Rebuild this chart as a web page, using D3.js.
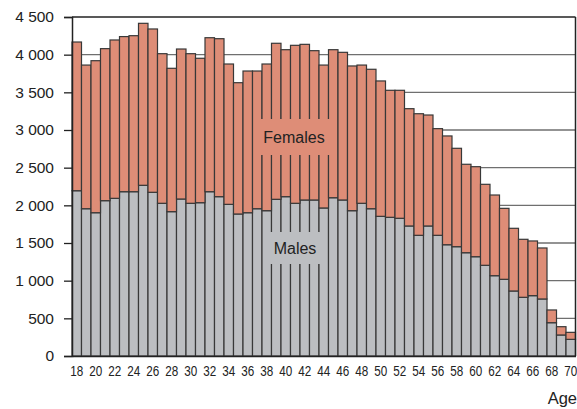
<!DOCTYPE html>
<html><head><meta charset="utf-8">
<script src="https://cdn.jsdelivr.net/npm/d3@7"></script>
<style>body{margin:0;background:#fff}svg{display:block}text{font-family:"Liberation Sans",Arial,sans-serif;fill:#222}</style>
</head><body><svg id="c" width="577" height="409"></svg>
<script>
const ages = [18,19,20,21,22,23,24,25,26,27,28,29,30,31,32,33,34,35,36,37,38,39,40,41,42,43,44,45,46,47,48,49,50,51,52,53,54,55,56,57,58,59,60,61,62,63,64,65,66,67,68,69,70];
const males = [2194,1955,1902,2062,2093,2181,2181,2266,2173,2027,1916,2084,2027,2035,2181,2115,2013,1885,1902,1955,1929,2080,2115,2027,2071,2071,1965,2101,2071,1929,2027,1955,1854,1841,1828,1726,1602,1726,1602,1477,1451,1371,1318,1204,1066,1018,863,779,801,757,442,279,221];
const females = [1974,1907,2018,2018,2102,2059,2071,2150,2168,1986,1903,1991,1986,1917,2044,2097,1863,1743,1881,1828,1947,2071,1951,2097,2066,1982,1897,1965,1960,1921,1835,1851,1797,1686,1699,1557,1614,1473,1416,1444,1306,1174,1195,1075,1071,942,832,770,726,677,169,110,93];
const yTicks = [0,500,1000,1500,2000,2500,3000,3500,4000,4500];
const xLabels = [18,20,22,24,26,28,30,32,34,36,38,40,42,44,46,48,50,52,54,56,58,60,62,64,66,68,70];
const seriesNames = ["Males","Females"];
const colors = {Males:"#bcbec1", Females:"#de8d77"};

const svg = d3.select("#c");
const L=72, R=575.5, T=17, B=356;
const x = d3.scaleBand().domain(ages).range([L,R]).padding(0);
const y = d3.scaleLinear().domain([0,4500]).range([B,T]);
const fmt = v => d3.format(",")(v).replace(/,/g," ");

// gridlines
svg.append("g").selectAll("line").data(yTicks.filter(t=>t>0 && t<4500)).join("line")
  .attr("x1",L).attr("x2",R).attr("y1",d=>y(d)).attr("y2",d=>y(d))
  .attr("stroke","#6f6f6f").attr("stroke-width",1.3);

const rows = ages.map((a,i)=>({age:a, Males:males[i], Females:females[i]}));
const stack = d3.stack().keys(seriesNames)(rows);
svg.append("g").selectAll("g").data(stack).join("g")
  .attr("fill",d=>colors[d.key])
  .selectAll("rect").data(d=>d).join("rect")
  .attr("x",d=>x(d.data.age)).attr("width",x.bandwidth())
  .attr("y",d=>y(d[1])).attr("height",d=>y(d[0])-y(d[1]))
  .attr("stroke","#383838").attr("stroke-width",1.2);

// series labels
const lab = [
  {name:"Females", cx:294, cy:137, w:78, h:36},
  {name:"Males", cx:295, cy:248, w:58, h:32}
];
const lg = svg.append("g");
lab.forEach(l=>{
  lg.append("rect").attr("x",l.cx-l.w/2).attr("y",l.cy-l.h/2).attr("width",l.w).attr("height",l.h).attr("fill",colors[l.name]);
  lg.append("text").attr("x",l.cx).attr("y",l.cy+6).attr("text-anchor","middle")
    .style("font-size","16px").text(l.name);
});

// border top/right
svg.append("line").attr("x1",L).attr("x2",R).attr("y1",T).attr("y2",T).attr("stroke","#222").attr("stroke-width",1.5);
svg.append("line").attr("x1",R).attr("x2",R).attr("y1",T).attr("y2",B).attr("stroke","#222").attr("stroke-width",1.5);

// y axis
const ya = svg.append("g").attr("transform",`translate(${L},0)`)
  .call(d3.axisLeft(y).tickValues(yTicks).tickSize(8).tickPadding(0).tickFormat(fmt));
ya.select(".domain").attr("stroke","#222").attr("stroke-width",1.5);
ya.selectAll(".tick line").attr("stroke","#222").attr("stroke-width",1.3);
ya.selectAll("text").attr("x",-18).style("font-size","15.5px").attr("fill","#222");

// x axis
const xa = svg.append("g").attr("transform",`translate(0,${B})`)
  .call(d3.axisBottom(x).tickValues(xLabels).tickSize(0).tickPadding(9));
xa.select(".domain").attr("stroke","#222").attr("stroke-width",1.5);
xa.selectAll("text").style("font-size","15px").attr("fill","#222")
  .attr("transform","scale(0.78,1)");

svg.append("text").attr("x",577).attr("y",404).attr("text-anchor","end")
  .style("font-size","16.5px").text("Age");
</script></body></html>
